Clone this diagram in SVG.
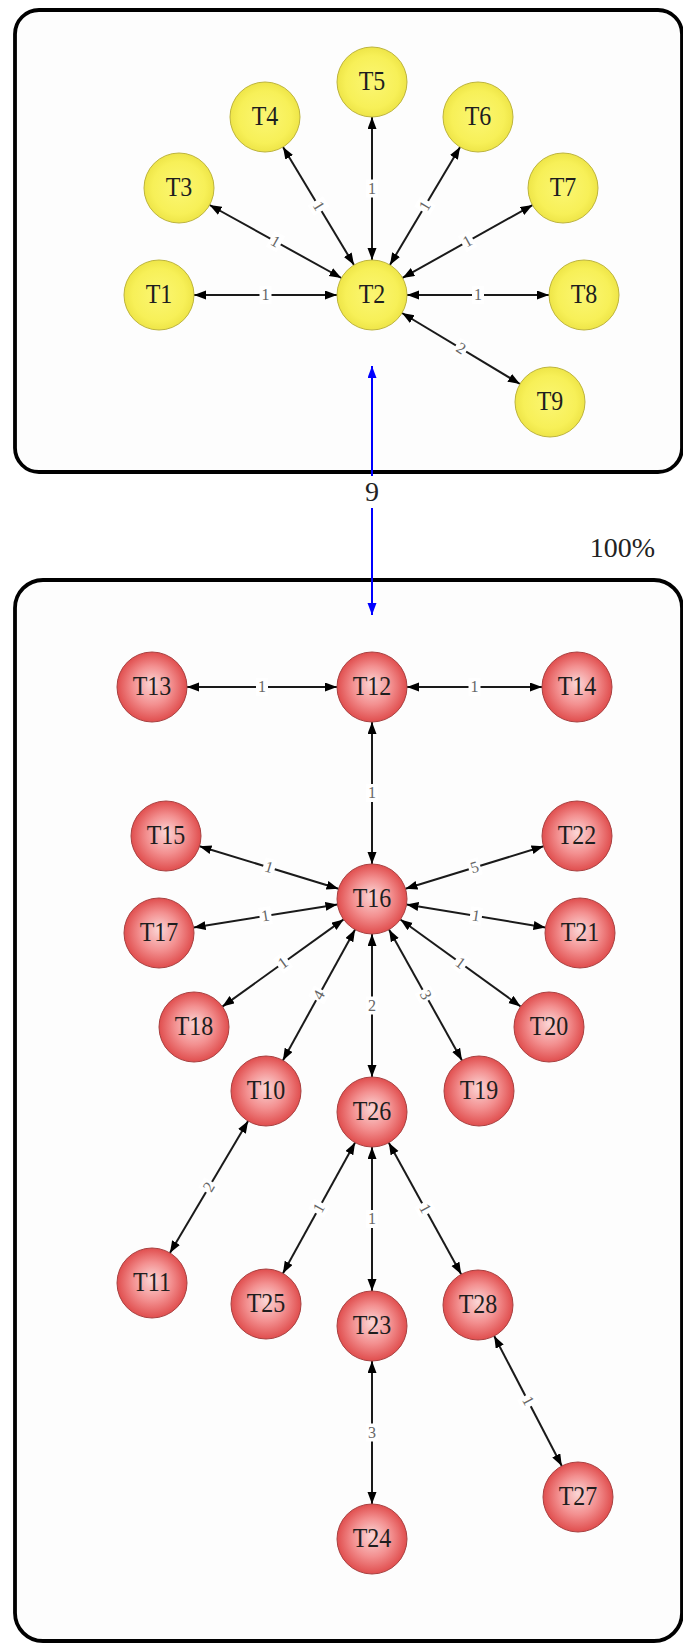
<svg xmlns="http://www.w3.org/2000/svg" width="683" height="1643" viewBox="0 0 683 1643">
<defs>
<style>
.box{fill:#fdfdfd;stroke:#000;stroke-width:3.8}
.edge{stroke:#1a1a1a;stroke-width:2;fill:none;marker-start:url(#ah);marker-end:url(#ah)}
.blue{stroke:#0000ff;stroke-width:2;fill:none;marker-start:url(#bh);marker-end:url(#bh)}
.ny{fill:url(#yel);stroke:#bdb43c;stroke-width:1}
.nr{fill:url(#red);stroke:#a84040;stroke-width:1}
.nt{font-family:"Liberation Serif","Times New Roman",serif;font-size:24px;fill:#1e1e1e;text-anchor:middle}
.lb{fill:#fff}
.lt{font-family:"Liberation Serif","Times New Roman",serif;font-size:16px;fill:#666;text-anchor:middle}
.big{font-family:"Liberation Serif","Times New Roman",serif;font-size:28px;fill:#222}
</style>
<marker id="ah" markerUnits="userSpaceOnUse" markerWidth="13" markerHeight="10" refX="12" refY="4.5" orient="auto-start-reverse"><path d="M0,0 L12,4.5 L0,9 z" fill="#000"/></marker>
<marker id="bh" markerUnits="userSpaceOnUse" markerWidth="13" markerHeight="10" refX="12" refY="4.5" orient="auto-start-reverse"><path d="M0,0 L12,4.5 L0,9 z" fill="#0000ff"/></marker>
<radialGradient id="red" cx="50%" cy="50%" r="50%" fx="50%" fy="45%">
<stop offset="0" stop-color="#fbd6d6"/><stop offset="0.55" stop-color="#f39090"/><stop offset="1" stop-color="#e04e4e"/>
</radialGradient>
<radialGradient id="yel" cx="50%" cy="50%" r="50%">
<stop offset="0" stop-color="#fbf672"/><stop offset="0.75" stop-color="#f7f058"/><stop offset="1" stop-color="#eee548"/>
</radialGradient>
</defs>
<rect width="683" height="1643" fill="#fff"/>
<g id="containers">
<rect class="box" x="15" y="10" width="667" height="462" rx="24"/>
<rect class="box" x="15" y="580" width="667" height="1061" rx="28"/>
<text class="big" x="655" y="557" text-anchor="end">100%</text>
</g>
<g id="connectors">
<line class="edge" x1="337" y1="295" x2="194" y2="295"/>
<line class="edge" x1="341.4" y1="278" x2="209.6" y2="205"/>
<line class="edge" x1="354" y1="265" x2="283" y2="147"/>
<line class="edge" x1="372" y1="260" x2="372" y2="117"/>
<line class="edge" x1="389.9" y1="264.9" x2="460.1" y2="147.1"/>
<line class="edge" x1="402.5" y1="277.9" x2="532.5" y2="205.1"/>
<line class="edge" x1="407" y1="295" x2="549" y2="295"/>
<line class="edge" x1="402" y1="313" x2="520" y2="384"/>
<line class="blue" x1="372" y1="366" x2="372" y2="615"/>
<line class="edge" x1="337" y1="687" x2="187" y2="687"/>
<line class="edge" x1="407" y1="687" x2="542" y2="687"/>
<line class="edge" x1="372" y1="722" x2="372" y2="864"/>
<line class="edge" x1="338.5" y1="888.8" x2="199.5" y2="846.2"/>
<line class="edge" x1="337.4" y1="904.5" x2="193.6" y2="927.5"/>
<line class="edge" x1="343.6" y1="919.4" x2="222.4" y2="1006.6"/>
<line class="edge" x1="355.1" y1="929.6" x2="282.9" y2="1060.4"/>
<line class="edge" x1="372" y1="934" x2="372" y2="1077"/>
<line class="edge" x1="389" y1="929.6" x2="462" y2="1060.4"/>
<line class="edge" x1="400.4" y1="919.5" x2="520.6" y2="1006.5"/>
<line class="edge" x1="406.5" y1="904.6" x2="545.5" y2="927.4"/>
<line class="edge" x1="405.4" y1="888.7" x2="543.6" y2="846.3"/>
<line class="edge" x1="248.1" y1="1121.1" x2="169.9" y2="1252.9"/>
<line class="edge" x1="355.1" y1="1142.6" x2="282.9" y2="1273.4"/>
<line class="edge" x1="372" y1="1147" x2="372" y2="1291"/>
<line class="edge" x1="388.8" y1="1142.7" x2="461.2" y2="1274.3"/>
<line class="edge" x1="372" y1="1361" x2="372" y2="1504"/>
<line class="edge" x1="494.2" y1="1336" x2="561.8" y2="1466"/>
<g id="edge-labels">
<g transform="translate(265.5,295)"><rect class="lb" x="-6" y="-9" width="12" height="18"/><text class="lt" y="5">1</text></g>
<g transform="translate(275.5,241.5) rotate(29)"><rect class="lb" x="-6" y="-9" width="12" height="18"/><text class="lt" y="5">1</text></g>
<g transform="translate(318.5,206) rotate(59)"><rect class="lb" x="-6" y="-9" width="12" height="18"/><text class="lt" y="5">1</text></g>
<g transform="translate(372,188.5)"><rect class="lb" x="-6" y="-9" width="12" height="18"/><text class="lt" y="5">1</text></g>
<g transform="translate(425,206) rotate(-59)"><rect class="lb" x="-6" y="-9" width="12" height="18"/><text class="lt" y="5">1</text></g>
<g transform="translate(467.5,241.5) rotate(-29)"><rect class="lb" x="-6" y="-9" width="12" height="18"/><text class="lt" y="5">1</text></g>
<g transform="translate(478,295)"><rect class="lb" x="-6" y="-9" width="12" height="18"/><text class="lt" y="5">1</text></g>
<g transform="translate(461,348.5) rotate(31)"><rect class="lb" x="-6" y="-9" width="12" height="18"/><text class="lt" y="5">2</text></g>
<g transform="translate(372,492)"><rect class="lb" x="-9" y="-16" width="18" height="32"/><text class="big" y="9" text-anchor="middle">9</text></g>
<g transform="translate(262,687)"><rect class="lb" x="-6" y="-9" width="12" height="18"/><text class="lt" y="5">1</text></g>
<g transform="translate(474.5,687)"><rect class="lb" x="-6" y="-9" width="12" height="18"/><text class="lt" y="5">1</text></g>
<g transform="translate(372,793)"><rect class="lb" x="-6" y="-9" width="12" height="18"/><text class="lt" y="5">1</text></g>
<g transform="translate(269,867.5) rotate(17)"><rect class="lb" x="-6" y="-9" width="12" height="18"/><text class="lt" y="5">1</text></g>
<g transform="translate(265.5,916) rotate(-9)"><rect class="lb" x="-6" y="-9" width="12" height="18"/><text class="lt" y="5">1</text></g>
<g transform="translate(283,963) rotate(-36)"><rect class="lb" x="-6" y="-9" width="12" height="18"/><text class="lt" y="5">1</text></g>
<g transform="translate(319,995) rotate(-61)"><rect class="lb" x="-6" y="-9" width="12" height="18"/><text class="lt" y="5">4</text></g>
<g transform="translate(372,1005.5)"><rect class="lb" x="-6" y="-9" width="12" height="18"/><text class="lt" y="5">2</text></g>
<g transform="translate(425.5,995) rotate(61)"><rect class="lb" x="-6" y="-9" width="12" height="18"/><text class="lt" y="5">3</text></g>
<g transform="translate(460.5,963) rotate(36)"><rect class="lb" x="-6" y="-9" width="12" height="18"/><text class="lt" y="5">1</text></g>
<g transform="translate(476,916) rotate(9)"><rect class="lb" x="-6" y="-9" width="12" height="18"/><text class="lt" y="5">1</text></g>
<g transform="translate(474.5,867.5) rotate(-17)"><rect class="lb" x="-6" y="-9" width="12" height="18"/><text class="lt" y="5">5</text></g>
<g transform="translate(209,1187) rotate(-59)"><rect class="lb" x="-6" y="-9" width="12" height="18"/><text class="lt" y="5">2</text></g>
<g transform="translate(319,1208) rotate(-61)"><rect class="lb" x="-6" y="-9" width="12" height="18"/><text class="lt" y="5">1</text></g>
<g transform="translate(372,1219)"><rect class="lb" x="-6" y="-9" width="12" height="18"/><text class="lt" y="5">1</text></g>
<g transform="translate(425,1208.5) rotate(61)"><rect class="lb" x="-6" y="-9" width="12" height="18"/><text class="lt" y="5">1</text></g>
<g transform="translate(372,1432.5)"><rect class="lb" x="-6" y="-9" width="12" height="18"/><text class="lt" y="5">3</text></g>
<g transform="translate(528,1401) rotate(62)"><rect class="lb" x="-6" y="-9" width="12" height="18"/><text class="lt" y="5">1</text></g>
</g>
</g>
<g id="T1"><circle class="ny" cx="159" cy="295" r="35"/><text class="nt" transform="translate(159,303) scale(1,1.12)">T1</text></g>
<g id="T2"><circle class="ny" cx="372" cy="295" r="35"/><text class="nt" transform="translate(372,303) scale(1,1.12)">T2</text></g>
<g id="T3"><circle class="ny" cx="179" cy="188" r="35"/><text class="nt" transform="translate(179,196) scale(1,1.12)">T3</text></g>
<g id="T4"><circle class="ny" cx="265" cy="117" r="35"/><text class="nt" transform="translate(265,125) scale(1,1.12)">T4</text></g>
<g id="T5"><circle class="ny" cx="372" cy="82" r="35"/><text class="nt" transform="translate(372,90) scale(1,1.12)">T5</text></g>
<g id="T6"><circle class="ny" cx="478" cy="117" r="35"/><text class="nt" transform="translate(478,125) scale(1,1.12)">T6</text></g>
<g id="T7"><circle class="ny" cx="563" cy="188" r="35"/><text class="nt" transform="translate(563,196) scale(1,1.12)">T7</text></g>
<g id="T8"><circle class="ny" cx="584" cy="295" r="35"/><text class="nt" transform="translate(584,303) scale(1,1.12)">T8</text></g>
<g id="T9"><circle class="ny" cx="550" cy="402" r="35"/><text class="nt" transform="translate(550,410) scale(1,1.12)">T9</text></g>
<g id="T12"><circle class="nr" cx="372" cy="687" r="35"/><text class="nt" transform="translate(372,695) scale(1,1.12)">T12</text></g>
<g id="T13"><circle class="nr" cx="152" cy="687" r="35"/><text class="nt" transform="translate(152,695) scale(1,1.12)">T13</text></g>
<g id="T14"><circle class="nr" cx="577" cy="687" r="35"/><text class="nt" transform="translate(577,695) scale(1,1.12)">T14</text></g>
<g id="T15"><circle class="nr" cx="166" cy="836" r="35"/><text class="nt" transform="translate(166,844) scale(1,1.12)">T15</text></g>
<g id="T16"><circle class="nr" cx="372" cy="899" r="35"/><text class="nt" transform="translate(372,907) scale(1,1.12)">T16</text></g>
<g id="T17"><circle class="nr" cx="159" cy="933" r="35"/><text class="nt" transform="translate(159,941) scale(1,1.12)">T17</text></g>
<g id="T18"><circle class="nr" cx="194" cy="1027" r="35"/><text class="nt" transform="translate(194,1035) scale(1,1.12)">T18</text></g>
<g id="T19"><circle class="nr" cx="479" cy="1091" r="35"/><text class="nt" transform="translate(479,1099) scale(1,1.12)">T19</text></g>
<g id="T20"><circle class="nr" cx="549" cy="1027" r="35"/><text class="nt" transform="translate(549,1035) scale(1,1.12)">T20</text></g>
<g id="T21"><circle class="nr" cx="580" cy="933" r="35"/><text class="nt" transform="translate(580,941) scale(1,1.12)">T21</text></g>
<g id="T22"><circle class="nr" cx="577" cy="836" r="35"/><text class="nt" transform="translate(577,844) scale(1,1.12)">T22</text></g>
<g id="T10"><circle class="nr" cx="266" cy="1091" r="35"/><text class="nt" transform="translate(266,1099) scale(1,1.12)">T10</text></g>
<g id="T26"><circle class="nr" cx="372" cy="1112" r="35"/><text class="nt" transform="translate(372,1120) scale(1,1.12)">T26</text></g>
<g id="T11"><circle class="nr" cx="152" cy="1283" r="35"/><text class="nt" transform="translate(152,1291) scale(1,1.12)">T11</text></g>
<g id="T25"><circle class="nr" cx="266" cy="1304" r="35"/><text class="nt" transform="translate(266,1312) scale(1,1.12)">T25</text></g>
<g id="T23"><circle class="nr" cx="372" cy="1326" r="35"/><text class="nt" transform="translate(372,1334) scale(1,1.12)">T23</text></g>
<g id="T28"><circle class="nr" cx="478" cy="1305" r="35"/><text class="nt" transform="translate(478,1313) scale(1,1.12)">T28</text></g>
<g id="T27"><circle class="nr" cx="578" cy="1497" r="35"/><text class="nt" transform="translate(578,1505) scale(1,1.12)">T27</text></g>
<g id="T24"><circle class="nr" cx="372" cy="1539" r="35"/><text class="nt" transform="translate(372,1547) scale(1,1.12)">T24</text></g>
</svg>
